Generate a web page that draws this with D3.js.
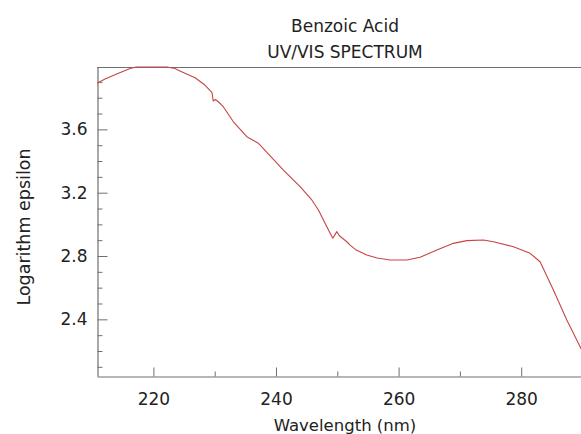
<!DOCTYPE html>
<html>
<head>
<meta charset="utf-8">
<script src="https://cdn.jsdelivr.net/npm/d3@7"></script>
<style>
  html, body { margin: 0; padding: 0; background: #fff; overflow: hidden; }
  svg { display: block; }
  text { font-family: "DejaVu Sans", sans-serif; fill: #222; }
</style>
</head>
<body>
<svg id="chart" width="581" height="434"></svg>
<script>
// ---- Data ----
const titleLines = ["Benzoic Acid", "UV/VIS SPECTRUM"];
const xLabel = "Wavelength (nm)";
const yLabel = "Logarithm epsilon";
const xMajorTicks = [220, 240, 260, 280];
const xMinorTicks = [230, 250, 270, 290];
const yMajorTicks = [2.4, 2.8, 3.2, 3.6];
const yMinorTicks = [2.1, 2.2, 2.3, 2.5, 2.6, 2.7, 2.9, 3.0, 3.1, 3.3, 3.4, 3.5, 3.7, 3.8, 3.9];
const wavelength = [210.8, 212.1, 214.3, 216.2, 217.2, 219.0, 220.5, 222.2, 223.5, 224.6,
  226.8, 228.4, 229.5, 229.6, 229.75, 230.07, 230.55, 231.4, 233.05, 235.24,
  237.13, 237.68, 241.21, 243.93, 245.84, 246.92, 248.29, 249.27, 249.92, 250.34,
  251.55, 252.09, 253.0, 254.81, 256.5, 258.61, 261.34, 263.51, 266.23, 268.94,
  271.13, 273.83, 275.46, 278.73, 281.45, 283.08, 285.25, 287.44, 289.61, 290.5];
const logEpsilon = [3.891, 3.918, 3.954, 3.984, 3.996, 4.010, 4.015, 3.998, 3.984, 3.964,
  3.926, 3.880, 3.836, 3.826, 3.779, 3.789, 3.776, 3.743, 3.648, 3.554,
  3.512, 3.490, 3.343, 3.238, 3.154, 3.091, 2.985, 2.912, 2.954, 2.928,
  2.890, 2.869, 2.840, 2.806, 2.787, 2.775, 2.775, 2.792, 2.838, 2.880,
  2.897, 2.901, 2.890, 2.859, 2.817, 2.764, 2.585, 2.396, 2.227, 2.160];

// ---- Layout ----
const svg = d3.select("#chart");
const pLeft = 97, pTop = 67, pBottom = 376, pRight = 582.5;
const axisColor = "#707070";
const fontSize = 17;

const x = d3.scaleLinear().domain([210.8, 290]).range([pLeft, pRight]);
const y = d3.scaleLinear().domain([2.042, 3.994]).range([pBottom, pTop]).clamp(true);

// clip
svg.append("clipPath").attr("id", "plotClip")
  .append("rect").attr("x", pLeft).attr("y", pTop - 1).attr("width", pRight - pLeft).attr("height", pBottom - pTop + 2);

// top border
svg.append("line")
  .attr("x1", pLeft).attr("x2", pRight).attr("y1", pTop + 0.5).attr("y2", pTop + 0.5)
  .attr("stroke", axisColor).attr("stroke-width", 1.2);

// x axis
const gx = svg.append("g").attr("transform", `translate(0,${pBottom + 0.5})`);
gx.call(d3.axisBottom(x).tickValues(xMajorTicks).tickSizeInner(-9).tickSizeOuter(0)
  .tickPadding(16).tickFormat(d3.format("d")));
const gxm = svg.append("g").attr("transform", `translate(0,${pBottom + 0.5})`);
gxm.call(d3.axisBottom(x).tickValues(xMinorTicks).tickSizeInner(-5).tickSizeOuter(0).tickFormat(""));
gxm.select(".domain").remove();

// y axis
const gy = svg.append("g").attr("transform", `translate(${pLeft + 0.5},0)`);
gy.call(d3.axisLeft(y).tickValues(yMajorTicks).tickSizeInner(-10).tickSizeOuter(0)
  .tickPadding(10).tickFormat(d3.format(".1f")));
const gym = svg.append("g").attr("transform", `translate(${pLeft + 0.5},0)`);
gym.call(d3.axisLeft(y).tickValues(yMinorTicks).tickSizeInner(-5).tickSizeOuter(0).tickFormat(""));
gym.select(".domain").remove();

svg.selectAll(".domain").attr("stroke", axisColor).attr("stroke-width", 1.2);
svg.selectAll(".tick line").attr("stroke", axisColor).attr("stroke-width", 1);
svg.selectAll(".tick text").attr("font-family", "DejaVu Sans").attr("font-size", fontSize).attr("fill", "#222");

// the spectrum line
const line = d3.line().x((d, i) => x(wavelength[i])).y(d => y(d));
svg.append("path")
  .datum(logEpsilon)
  .attr("clip-path", "url(#plotClip)")
  .attr("fill", "none")
  .attr("stroke", "#c84444")
  .attr("stroke-width", 1.1)
  .attr("stroke-linejoin", "round")
  .attr("d", line);

// titles
svg.selectAll("text.title").data(titleLines).enter().append("text")
  .attr("class", "title")
  .attr("x", 345).attr("y", (d, i) => 31.7 + i * 26.6)
  .attr("text-anchor", "middle").attr("font-size", fontSize)
  .text(d => d);

svg.append("text")
  .attr("x", 345).attr("y", 431)
  .attr("text-anchor", "middle").attr("font-size", 16.5)
  .text(xLabel);

svg.append("text")
  .attr("transform", "translate(29.5,227) rotate(-90)")
  .attr("text-anchor", "middle").attr("font-size", 17.5)
  .text(yLabel);
</script>
</body>
</html>
